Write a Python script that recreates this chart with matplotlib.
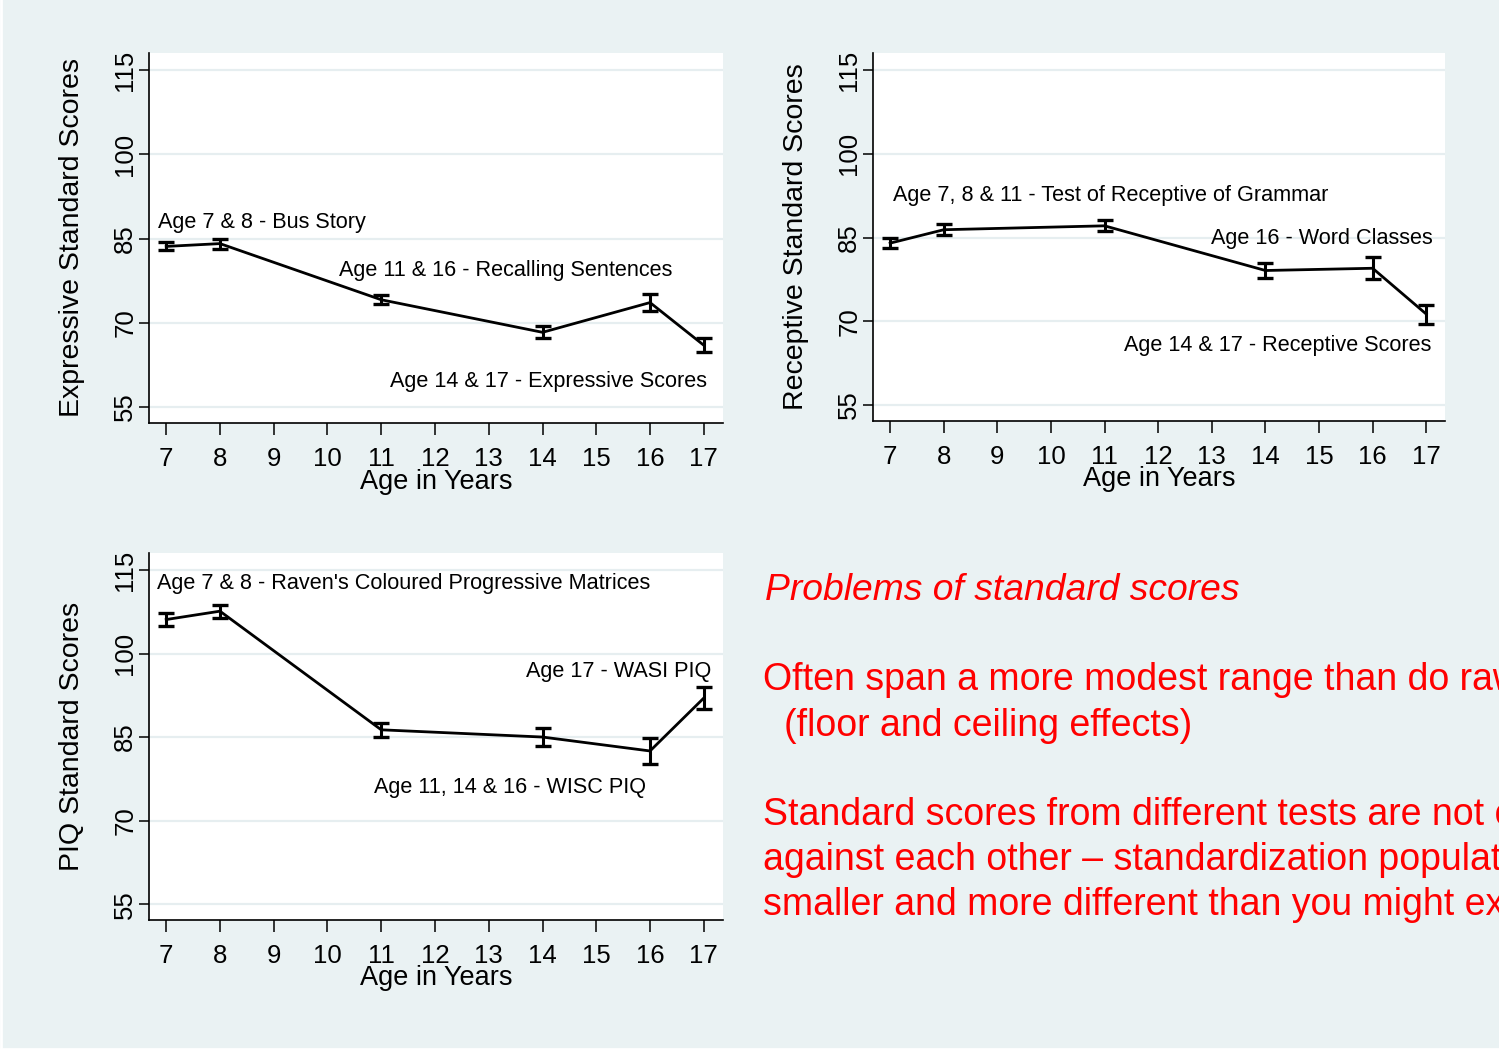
import matplotlib
matplotlib.use("Agg")
import matplotlib.pyplot as plt
from matplotlib.lines import Line2D

plt.rcParams['font.family'] = ['Liberation Sans', 'DejaVu Sans']

# data
ages = [7, 8, 11, 14, 16, 17]

expr_mean = [83.6, 84.1, 74.1, 68.3, 73.6, 66.0]
expr_err = [0.7, 0.9, 0.8, 1.1, 1.5, 1.25]

rec_mean = [84.0, 86.4, 87.1, 79.1, 79.5, 71.3]
rec_err = [0.9, 0.95, 1.0, 1.4, 2.0, 1.7]

piq_mean = [106.1, 107.6, 86.3, 85.0, 82.5, 92.0]
piq_err = [1.2, 1.15, 1.3, 1.65, 2.25, 1.9]

x_ticks = list(range(7, 18))
y_ticks = [55, 70, 85, 100, 115]

expr_notes = [("Age 7 & 8 - Bus Story", 8.79, 87.9),
              ("Age 11 & 16 - Recalling Sentences", 13.31, 79.3),
              ("Age 14 & 17 - Expressive Scores", 14.11, 59.6)]
rec_notes = [("Age 7, 8 & 11 - Test of Receptive of Grammar", 11.12, 92.6),
             ("Age 16 - Word Classes", 15.06, 84.9),
             ("Age 14 & 17 - Receptive Scores", 14.23, 65.6)]
piq_notes = [("Age 7 & 8 - Raven's Coloured Progressive Matrices", 11.41, 112.5),
             ("Age 17 - WASI PIQ", 15.41, 96.8),
             ("Age 11, 14 & 16 - WISC PIQ", 13.39, 75.9)]

bg = '#EAF2F3'
W, H = 1499, 1050

fig = plt.figure(figsize=(W / 100, H / 100), dpi=100, facecolor=bg)

# thin white slide border on the left and bottom
for xs, ys in [([0.0008, 0.0008], [0, 1]), ([0, 1], [0.0012, 0.0012])]:
    fig.add_artist(Line2D(xs, ys, color='white', lw=2, transform=fig.transFigure))


def px_axes(left, right, top, bottom):
    return fig.add_axes([left / W, 1 - bottom / H, (right - left) / W, (bottom - top) / H])


def panel(ax, mean, err, ylabel, notes):
    ax.set_facecolor('white')
    ax.errorbar(ages, mean, yerr=err, color='black', lw=2.0, elinewidth=2.2,
                capsize=6, capthick=2.4, zorder=3)
    ax.set_xlim(6.68, 17.35)
    ax.set_ylim(52.15, 118.1)
    ax.set_xticks(x_ticks)
    ax.set_yticks(y_ticks)
    ax.grid(axis='y', color='#E6EEF0', lw=1.6, zorder=0)
    ax.set_axisbelow(True)
    for s in ['top', 'right']:
        ax.spines[s].set_visible(False)
    for s in ['left', 'bottom']:
        ax.spines[s].set_linewidth(1.2)
    ax.tick_params(axis='y', length=7, width=1.1, pad=1.5, labelsize=18.5,
                   labelrotation=90)
    for lab in ax.get_yticklabels():
        lab.set_va('center')
    ax.tick_params(axis='x', length=8.5, width=1.1, pad=8.5, labelsize=18.5)
    ax.text(0.5, -0.158, "Age in Years", transform=ax.transAxes, ha='center',
            va='center', fontsize=19.5)
    ax.text(-0.134, 0.5, ylabel, transform=ax.transAxes, ha='center',
            va='center', rotation=90, fontsize=20.5)
    for txt, x, y in notes:
        ax.text(x, y, txt, ha='center', va='center', fontsize=15.6)


ax1 = px_axes(149, 722.6, 52.7, 423)
panel(ax1, expr_mean, expr_err, "Expressive Standard Scores", expr_notes)

ax2 = px_axes(873, 1445, 52.7, 421)
panel(ax2, rec_mean, rec_err, "Receptive Standard Scores", rec_notes)

ax3 = px_axes(149, 722.6, 552.7, 920)
panel(ax3, piq_mean, piq_err, "PIQ Standard Scores", piq_notes)

# red notes on the right (run off the slide edge like the original)
red = '#FF0000'
fig.text(765 / W, 1 - 591 / H, "Problems of standard scores", color=red,
         fontsize=26.8, style='italic', ha='left', va='center')
body = [("Often span a more modest range than do raw scores", 763, 680),
        ("(floor and ceiling effects)", 784, 726),
        ("Standard scores from different tests are not comparable", 763, 815),
        ("against each other \u2013 standardization populations are", 763, 860),
        ("smaller and more different than you might expect", 763, 905)]
for txt, x, y in body:
    fig.text(x / W, 1 - y / H, txt, color=red, fontsize=27, ha='left', va='center')

fig.savefig("out.png", dpi=100, facecolor=bg)
